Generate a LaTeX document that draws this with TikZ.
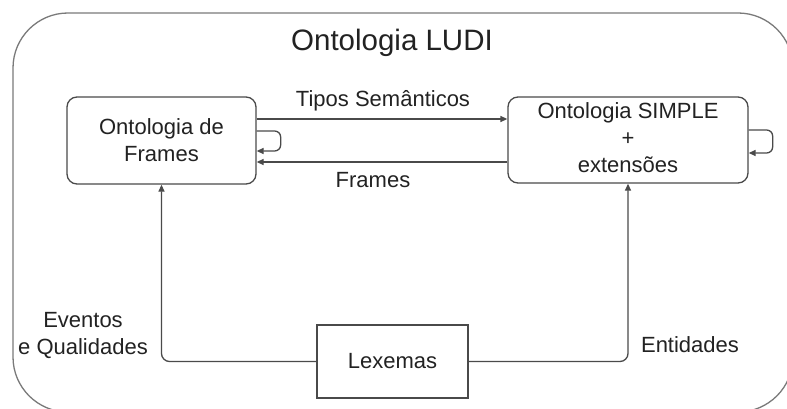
\documentclass[tikz,border=0pt]{standalone}
\usepackage{fontspec}
\setmainfont{Liberation Sans}
\usetikzlibrary{arrows.meta}
\definecolor{linegray}{HTML}{4A4A4A}
\definecolor{framegray}{HTML}{7A7A7A}
\definecolor{textgray}{HTML}{222222}
\begin{document}
\begin{tikzpicture}[x=1pt,y=-1pt,
  box/.style={draw=linegray, line width=1.3pt, rounded corners=10pt, align=center,
    text=textgray, font=\fontsize{22}{27}\selectfont, inner sep=0pt},
  plainbox/.style={draw=linegray, line width=1.3pt, align=center,
    text=textgray, font=\fontsize{22}{27}\selectfont, inner sep=0pt},
  lbl/.style={text=textgray, font=\fontsize{22}{27}\selectfont, align=center, inner sep=0pt},
  conn/.style={draw=linegray, line width=1.3pt, -{Triangle[length=7pt,width=6pt]}}
]
\useasboundingbox (0,0) rectangle (787,409);
\fill[white] (0,0) rectangle (787,409);

% outer frame of the ontology, cut off at the page edge
\begin{scope}
  \clip (0,0) rectangle (787,409);
  \draw[framegray, line width=1.3pt, rounded corners=55pt] (13,13) rectangle (793,412);
\end{scope}

\node[lbl, font=\fontsize{29.5}{34}\selectfont] (title) at (392,43) {Ontologia LUDI};

\node[box, minimum width=189pt, minimum height=87pt] (frames) at (161.5,140.5)
  {Ontologia de\\Frames};
\node[box, minimum width=240pt, minimum height=86pt] (simple) at (628,140) {};
\node[lbl] (simpletxt) at (628,138) {Ontologia SIMPLE\\+\\extensões};
\node[plainbox, minimum width=151pt, minimum height=73pt] (lex) at (392.5,361.5) {Lexemas};

% links between the two ontologies
\draw[conn] (frames.east |- 0,119) -- (simple.west |- 0,119);
\draw[conn] (simple.west |- 0,162) -- (frames.east |- 0,162);
\node[lbl] (tipos) at (383,101) {Tipos Semânticos};
\node[lbl] (fr) at (373,180) {Frames};

% self-loops
\draw[conn, rounded corners=6pt] (frames.east |- 0,131) -- ++(24,0) -- ++(0,20) -- (frames.east |- 0,151);
\draw[conn, rounded corners=6pt] (simple.east |- 0,130) -- ++(24,0) -- ++(0,23) -- (simple.east |- 0,153);

% lexemes feeding both ontologies
\draw[conn, rounded corners=8pt] (lex.west) -| (frames.south);
\draw[conn, rounded corners=8pt] (lex.east) -| (simple.south);
\node[lbl] (eventos) at (83,336) {Eventos\\e Qualidades};
\node[lbl] (entidades) at (690,345) {Entidades};
\end{tikzpicture}
\end{document}
